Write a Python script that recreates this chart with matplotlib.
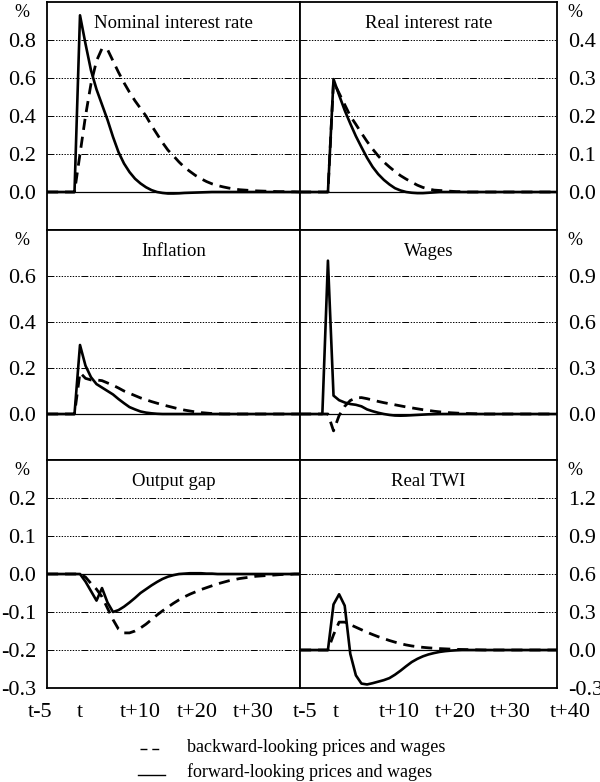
import matplotlib
matplotlib.use("Agg")
import matplotlib.pyplot as plt
from matplotlib.lines import Line2D
from matplotlib.transforms import ScaledTranslation

plt.rcParams['font.family'] = ['Liberation Serif', 'DejaVu Serif']
plt.rcParams['lines.scale_dashes'] = False

# ---------------- data ----------------
periods = list(range(-6, 41))

nominal_fwd = [0, 0, 0, 0, 0, 0, 0.93, 0.78, 0.64, 0.54, 0.46, 0.38, 0.29, 0.21, 0.15, 0.105,
               0.07, 0.045, 0.025, 0.01, 0.0, -0.005, -0.008, -0.008, -0.007, -0.005, -0.004,
               -0.003, -0.002, -0.001, 0, 0, 0, 0, 0, 0, 0, 0, 0, 0, 0, 0, 0, 0, 0, 0, 0]
nominal_bwd = [0, 0, 0, 0, 0, 0, 0.2, 0.4, 0.57, 0.69, 0.755, 0.75, 0.69, 0.63, 0.575, 0.525,
               0.48, 0.44, 0.4, 0.35, 0.305, 0.26, 0.22, 0.19, 0.158, 0.13, 0.108, 0.087, 0.07,
               0.055, 0.043, 0.034, 0.027, 0.021, 0.016, 0.012, 0.01, 0.008, 0.006, 0.005,
               0.004, 0.003, 0.002, 0.002, 0.001, 0.001, 0]

real_fwd = [0, 0, 0, 0, 0, 0, 0.297, 0.255, 0.215, 0.18, 0.147, 0.118, 0.09, 0.066, 0.047, 0.032,
            0.02, 0.01, 0.004, 0.0, -0.002, -0.003, -0.003, -0.002, -0.001, 0, 0, 0, 0, 0, 0,
            0, 0, 0, 0, 0, 0, 0, 0, 0, 0, 0, 0, 0, 0, 0, 0]
real_bwd = [0, 0, 0, 0, 0, 0, 0.29, 0.26, 0.23, 0.2, 0.178, 0.155, 0.133, 0.113, 0.095, 0.079,
            0.066, 0.054, 0.043, 0.034, 0.026, 0.018, 0.012, 0.008, 0.005, 0.004, 0.003, 0.002,
            0.001, 0.001, 0, 0, 0, 0, 0, 0, 0, 0, 0, 0, 0, 0, 0, 0, 0, 0, 0]

inflation_fwd = [0, 0, 0, 0, 0, 0, 0.30, 0.21, 0.16, 0.13, 0.115, 0.1, 0.085, 0.065, 0.047, 0.03,
                 0.02, 0.011, 0.006, 0.003, 0.001, 0, 0, 0, 0, 0, 0, 0, 0, 0, 0, 0, 0, 0, 0, 0,
                 0, 0, 0, 0, 0, 0, 0, 0, 0, 0, 0]
inflation_bwd = [0, 0, 0, 0, 0, 0, 0.18, 0.155, 0.148, 0.148, 0.145, 0.135, 0.125, 0.113, 0.1,
                 0.09, 0.08, 0.07, 0.062, 0.054, 0.047, 0.04, 0.034, 0.028, 0.022, 0.017, 0.013,
                 0.009, 0.006, 0.004, 0.002, 0.001, 0, 0, 0, 0, 0, 0, 0, 0, 0, 0, 0, 0, 0, 0, 0]

wages_fwd = [0, 0, 0, 0, 0, 1.0, 0.12, 0.09, 0.075, 0.065, 0.06, 0.05, 0.03, 0.018, 0.008, 0.0,
             -0.006, -0.01, -0.011, -0.01, -0.008, -0.006, -0.004, -0.002, -0.001, 0, 0, 0, 0,
             0, 0, 0, 0, 0, 0, 0, 0, 0, 0, 0, 0, 0, 0, 0, 0, 0, 0]
wages_bwd = [0, 0, 0, 0, 0, 0, -0.11, -0.01, 0.05, 0.088, 0.105, 0.107, 0.1, 0.091, 0.082, 0.074,
             0.067, 0.06, 0.053, 0.046, 0.04, 0.034, 0.028, 0.023, 0.018, 0.014, 0.011, 0.008,
             0.006, 0.004, 0.003, 0.002, 0.001, 0, 0, 0, 0, 0, 0, 0, 0, 0, 0, 0, 0, 0, 0]

gap_fwd = [0, 0, 0, 0, 0, 0, 0, -0.02, -0.045, -0.07, -0.037, -0.075, -0.1, -0.095, -0.086,
           -0.075, -0.063, -0.05, -0.04, -0.03, -0.021, -0.013, -0.007, -0.003, 0, 0.001, 0.002,
           0.002, 0.002, 0.001, 0.001, 0, 0, 0, 0, 0, 0, 0, 0, 0, 0, 0, 0, 0, 0, 0, 0]
gap_bwd = [0, 0, 0, 0, 0, 0, 0, -0.008, -0.025, -0.04, -0.06, -0.09, -0.12, -0.145, -0.155,
           -0.155, -0.15, -0.142, -0.132, -0.12, -0.108, -0.097, -0.087, -0.077, -0.068, -0.06,
           -0.053, -0.047, -0.041, -0.036, -0.031, -0.026, -0.022, -0.018, -0.015, -0.012,
           -0.01, -0.008, -0.006, -0.005, -0.004, -0.003, -0.002, -0.001, -0.001, 0, 0]

twi_fwd = [0, 0, 0, 0, 0, 0, 0.36, 0.44, 0.35, -0.03, -0.2, -0.265, -0.272, -0.262, -0.25,
           -0.238, -0.222, -0.195, -0.163, -0.128, -0.095, -0.07, -0.05, -0.035, -0.024, -0.015,
           -0.009, -0.005, -0.002, 0, 0, 0, 0, 0, 0, 0, 0, 0, 0, 0, 0, 0, 0, 0, 0, 0, 0]
twi_bwd = [0, 0, 0, 0, 0, 0, 0.12, 0.22, 0.22, 0.2, 0.18, 0.16, 0.14, 0.122, 0.105, 0.09, 0.075,
           0.062, 0.05, 0.04, 0.032, 0.026, 0.021, 0.017, 0.014, 0.011, 0.009, 0.007, 0.005,
           0.004, 0.003, 0.002, 0.001, 0, 0, 0, 0, 0, 0, 0, 0, 0, 0, 0, 0, 0, 0]

titles = ["Nominal interest rate", "Real interest rate", "Inflation", "Wages",
          "Output gap", "Real TWI"]

nominal_yticks = ["0.0", "0.2", "0.4", "0.6", "0.8"]
real_yticks = ["0.0", "0.1", "0.2", "0.3", "0.4"]
inflation_yticks = ["0.0", "0.2", "0.4", "0.6"]
wages_yticks = ["0.0", "0.3", "0.6", "0.9"]
gap_yticks = ["-0.3", "-0.2", "-0.1", "0.0", "0.1", "0.2"]
twi_yticks = ["-0.3", "0.0", "0.3", "0.6", "0.9", "1.2"]

xtick_labels_left = ["t-5", "t", "t+10", "t+20", "t+30"]
xtick_labels_right = ["t-5", "t", "t+10", "t+20", "t+30", "t+40"]
xtick_pos_left = [-5, 0, 10, 20, 30]
xtick_pos_right = [-5, 0, 10, 20, 30, 40]

legend_labels = ["backward-looking prices and wages", "forward-looking prices and wages"]

# ---------------- layout ----------------
W, H = 600, 782
fig = plt.figure(figsize=(6.0, 7.82), dpi=100)

col_x = [(47, 300), (300, 557)]
row_y = [(2, 230), (230, 460), (460, 688)]
# horizontal nudges (pixels) of the x tick labels, as in the original layout
label_nudge = [[-12, 0, 5, 7, 8], [0, 2, 10, 10, 9, 13]]

panels = [
    (nominal_fwd, nominal_bwd, nominal_yticks, (-0.2, 1.0)),
    (real_fwd, real_bwd, real_yticks, (-0.1, 0.5)),
    (inflation_fwd, inflation_bwd, inflation_yticks, (-0.2, 0.8)),
    (wages_fwd, wages_bwd, wages_yticks, (-0.3, 1.2)),
    (gap_fwd, gap_bwd, gap_yticks, (-0.3, 0.3)),
    (twi_fwd, twi_bwd, twi_yticks, (-0.3, 1.5)),
]

grid_ls = (0, (5, 1.2, 1, 1, 1, 1, 1, 1, 1, 1, 1, 1, 1, 1, 1, 1, 1, 1, 1, 1.2))

for i, (fwd, bwd, ylabels, ylim) in enumerate(panels):
    r, c = divmod(i, 2)
    x0, x1 = col_x[c]
    y0, y1 = row_y[r]
    ax = fig.add_axes([x0 / W, 1 - y1 / H, (x1 - x0) / W, (y1 - y0) / H])
    ax.set_xlim(-6, 40)
    ax.set_ylim(*ylim)
    yvals = [float(s) for s in ylabels]
    for yv in yvals:
        if yv != 0.0:
            ax.axhline(yv, color='black', lw=0.7, ls=grid_ls, zorder=1)
    ax.axhline(0, color='black', lw=0.9, zorder=2)
    ax.plot(periods, bwd, color='black', lw=2.0, ls=(0, (8, 5)), zorder=3)
    ax.plot(periods, fwd, color='black', lw=1.9, zorder=4)

    ax.set_yticks(yvals, ylabels)
    if c == 1:
        ax.yaxis.tick_right()
    ax.tick_params(axis='y', length=0, labelsize=16, pad=8)

    if r == 2:
        pos = xtick_pos_left if c == 0 else xtick_pos_right
        labs = xtick_labels_left if c == 0 else xtick_labels_right
        ax.set_xticks(pos, labs)
        ax.set_xticks([0, 10, 20, 30], minor=True)
        ax.tick_params(axis='x', which='major', length=0, labelsize=16, pad=11)
        ax.tick_params(axis='x', which='minor', direction='in', length=6, width=1.1)
        for lab, dx in zip(ax.get_xticklabels(), label_nudge[c]):
            lab.set_transform(lab.get_transform() +
                              ScaledTranslation(dx / 100.0, 0, fig.dpi_scale_trans))
    else:
        ax.set_xticks([])

    for sp in ax.spines.values():
        sp.set_linewidth(1.3)

    ax.text(0.5, 0.905, titles[i], transform=ax.transAxes, ha='center', va='center',
            fontsize=13.5)
    ax.text(-0.098 if c == 0 else 1.07, 0.955, '%', transform=ax.transAxes,
            ha='center', va='center', fontsize=13)

# ---------------- legend ----------------
fig.add_artist(Line2D([140 / W, 163 / W], [1 - 749 / H, 1 - 749 / H], color='black',
                      lw=1.0, ls=(0, (5, 3.5)), transform=fig.transFigure))
fig.add_artist(Line2D([138 / W, 165 / W], [1 - 775 / H, 1 - 775 / H], color='black',
                      lw=1.0, transform=fig.transFigure))
fig.text(187 / W, 1 - 748 / H, legend_labels[0], ha='left', va='center', fontsize=13)
fig.text(187 / W, 1 - 772 / H, legend_labels[1], ha='left', va='center', fontsize=13)

fig.savefig("out.png", dpi=100)
